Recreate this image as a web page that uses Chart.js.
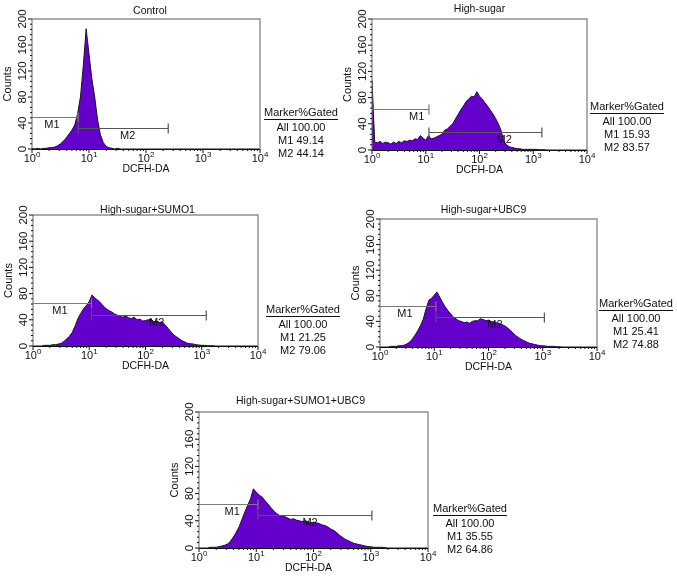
<!DOCTYPE html>
<html>
<head>
<meta charset="utf-8">
<script src="https://cdn.jsdelivr.net/npm/chart.js@4.4.1/dist/chart.umd.min.js"></script>
<style>
  html, body { margin: 0; padding: 0; background: #fff; }
  body { width: 677px; height: 580px; position: relative; overflow: hidden; }
  .panel { position: absolute; }
</style>
</head>
<body>
<div class="panel" style="left:0px;top:0px;width:340px;height:180px"><canvas id="c1"></canvas></div>
<div class="panel" style="left:340px;top:0px;width:337px;height:180px"><canvas id="c2"></canvas></div>
<div class="panel" style="left:0px;top:195px;width:340px;height:180px"><canvas id="c3"></canvas></div>
<div class="panel" style="left:340px;top:195px;width:337px;height:180px"><canvas id="c4"></canvas></div>
<div class="panel" style="left:160px;top:390px;width:360px;height:190px"><canvas id="c5"></canvas></div>
<script>
// channel positions, as log10 of DCFH-DA intensity
var channels = [
  0.00, 0.05, 0.10, 0.15, 0.20, 0.25, 0.30, 0.35, 0.40, 0.45,
  0.50, 0.55, 0.60, 0.65, 0.70, 0.75, 0.80, 0.85, 0.90, 0.95,
  1.00, 1.05, 1.10, 1.15, 1.20, 1.25, 1.30, 1.35, 1.40, 1.45,
  1.50, 1.55, 1.60, 1.65, 1.70, 1.75, 1.80, 1.85, 1.90, 1.95,
  2.00, 2.05, 2.10, 2.15, 2.20, 2.25, 2.30, 2.35, 2.40, 2.45,
  2.50, 2.55, 2.60, 2.65, 2.70, 2.75, 2.80, 2.85, 2.90, 2.95,
  3.00, 3.05, 3.10, 3.15, 3.20, 3.25, 3.30, 3.35, 3.40, 3.45,
  3.50, 3.55, 3.60, 3.65, 3.70, 3.75, 3.80, 3.85, 3.90, 3.95, 4.00
];

var xTickExp = [0, 1, 2, 3, 4];
var yTicks = [0, 40, 80, 120, 160, 200];

var titles = ["Control", "High-sugar", "High-sugar+SUMO1", "High-sugar+UBC9", "High-sugar+SUMO1+UBC9"];

var countsControl = [
  1, 0, 1, 0, 1, 1, 2, 2, 3, 5,
  8, 12, 17, 23, 29, 37, 54, 80, 128, 185,
  146, 108, 80, 45, 22, 10, 4, 2, 1, 0,
  1, 0, 0, 0, 0, 0, 0, 0, 0, 0,
  0, 0, 0, 0, 0, 0, 0, 0, 0, 0,
  0, 0, 0, 0, 0, 0, 0, 0, 0, 0,
  0, 0, 0, 0, 0, 0, 0, 0, 0, 0,
  0, 0, 0, 0, 0, 0, 0, 0, 0, 0, 0
];
var countsHigh = [
  107, 12, 11, 13, 10, 12, 11, 9, 12, 10,
  13, 11, 14, 13, 15, 14, 17, 16, 22, 18,
  15, 22, 17, 18, 20, 22, 24, 30, 32, 36,
  40, 47, 54, 61, 67, 74, 78, 82, 81, 89,
  82, 78, 72, 67, 61, 55, 48, 40, 30, 14,
  8, 5, 4, 3, 2, 2, 1, 1, 1, 1,
  1, 1, 0.5, 0.5, 0.5, 0, 0, 0, 0, 0,
  0, 0, 0, 0, 0, 0, 0, 0, 0, 0, 0
];
var countsSumo = [
  0, 0, 0, 0, 1, 1, 1, 2, 2, 3,
  4, 7, 11, 15, 21, 31, 42, 50, 57, 62,
  68, 78, 73, 70, 66, 61, 57, 54, 52, 49,
  47, 45, 44, 46, 43, 42, 44, 40, 41, 38,
  39, 40, 41, 37, 38, 36, 37, 32, 27, 22,
  17, 14, 11, 8, 6, 4, 3.5, 3, 2, 1.5,
  1, 1, 0.5, 0.5, 0.5, 0, 0, 0, 0, 0,
  0, 0, 0, 0, 0, 0, 0, 0, 0, 0, 0
];
var countsUbc = [
  0, 0, 0, 0, 1, 1, 1, 2, 2, 3,
  5, 8, 13, 19, 26, 34, 44, 60, 73, 76,
  81, 86, 78, 70, 63, 57, 52, 47, 44, 41,
  40, 38, 39, 37, 40, 41, 41, 44, 43, 41,
  42, 40, 39, 38, 37, 35, 33, 30, 26, 22,
  18, 15, 12, 10, 8, 6, 5, 4, 3, 2,
  2, 1.5, 1, 1, 1, 0.5, 0.5, 0, 0, 0,
  0, 0, 0, 0, 0, 0, 0, 0, 0, 0, 0
];
var countsBoth = [
  0, 0, 0, 0, 1, 1, 1, 2, 3, 4,
  6, 10, 16, 23, 31, 42, 53, 63, 72, 87,
  82, 78, 75, 70, 65, 60, 55, 51, 48, 47,
  46, 44, 42, 43, 41, 40, 39, 40, 39, 37,
  38, 37, 36, 34, 33, 31, 28, 26, 23, 19,
  16, 13, 11, 9, 7, 6, 5, 4, 3, 2,
  2, 1, 1, 1, 1, 0.5, 0, 0, 0, 0,
  0, 0, 0, 0, 0, 0, 0, 0, 0, 0, 0
];

// gates: [start, end, level]
var m1Gates = [[0, 0.81, 50], [0, 1.06, 63], [0, 1.04, 65], [0, 1.03, 64], [0, 1.03, 65]];
var m2Gates = [[0.81, 2.39, 33], [1.06, 3.16, 27], [1.04, 3.08, 48], [1.03, 3.03, 47], [1.03, 3.02, 48]];

var pctAll = ["100.00", "100.00", "100.00", "100.00", "100.00"];
var pctM1 = ["49.14", "15.93", "21.25", "25.41", "35.55"];
var pctM2 = ["44.14", "83.57", "79.06", "74.88", "64.86"];

var FONT = '"Liberation Sans", Arial, Helvetica, sans-serif';

// layout of each panel (canvas-relative paddings and text offsets)
var panels = [
  { id: "c1", data: countsControl, pad: { left: 32, top: 19, right: 80, bottom: 31 },
    titleDx: 4, titleDy: 8, labDx: 0, m1Lab: 0.35, m2Lab: 1.68, tab: [41, -36] },
  { id: "c2", data: countsHigh, pad: { left: 32, top: 19, right: 90, bottom: 30 },
    titleDx: 0, titleDy: 10, labDx: 0, m1Lab: 0.83, m2Lab: 2.46, tab: [40, -43] },
  { id: "c3", data: countsSumo, pad: { left: 33, top: 20, right: 82, bottom: 29 },
    titleDx: 2, titleDy: 5, labDx: 0, m1Lab: 0.48, m2Lab: 2.2, tab: [45, -36] },
  { id: "c4", data: countsUbc, pad: { left: 40, top: 24, right: 80, bottom: 28 },
    titleDx: -5, titleDy: 9, labDx: 0, m1Lab: 0.46, m2Lab: 2.12, tab: [39, -43] },
  { id: "c5", data: countsBoth, pad: { left: 39, top: 22, right: 92, bottom: 32 },
    titleDx: -13, titleDy: 11, labDx: -5, m1Lab: 0.58, m2Lab: 1.94, tab: [42, -39] }
];

function drawPow(ctx, x, y, e) {
  ctx.font = '11px ' + FONT;
  var w1 = ctx.measureText('10').width;
  ctx.font = '8px ' + FONT;
  var w2 = ctx.measureText(String(e)).width;
  var x0 = x - (w1 + w2) / 2;
  ctx.textAlign = 'left';
  ctx.textBaseline = 'middle';
  ctx.font = '11px ' + FONT;
  ctx.fillText('10', x0, y);
  ctx.font = '8px ' + FONT;
  ctx.fillText(String(e), x0 + w1, y - 4);
}

function decor(idx) {
  var p = panels[idx];
  return {
    id: 'decor' + idx,
    afterDatasetsDraw: function (chart) {
      var ctx = chart.ctx, a = chart.chartArea;
      var xs = chart.scales.x, ys = chart.scales.y;
      var cx = (a.left + a.right) / 2;
      ctx.save();

      // frame
      ctx.strokeStyle = '#8e8e8e';
      ctx.lineWidth = 1.4;
      ctx.beginPath();
      ctx.moveTo(a.left, a.top); ctx.lineTo(a.right, a.top); ctx.lineTo(a.right, a.bottom);
      ctx.stroke();
      ctx.strokeStyle = '#666';
      ctx.lineWidth = 1;
      ctx.beginPath();
      ctx.moveTo(a.left, a.top); ctx.lineTo(a.left, a.bottom);
      ctx.stroke();
      ctx.strokeStyle = '#111';
      ctx.beginPath();
      ctx.moveTo(a.left, a.bottom + 0.5); ctx.lineTo(a.right, a.bottom + 0.5);
      ctx.stroke();

      // x ticks, major and log minor
      ctx.beginPath();
      xTickExp.forEach(function (e) {
        var px = xs.getPixelForValue(e);
        ctx.moveTo(px, a.bottom); ctx.lineTo(px, a.bottom + 4);
        if (e < 4) {
          for (var k = 2; k <= 9; k++) {
            var mx = xs.getPixelForValue(e + Math.log10(k));
            ctx.moveTo(mx, a.bottom); ctx.lineTo(mx, a.bottom + 2);
          }
        }
      });
      // y ticks
      for (var v = 0; v <= 200; v += 8) {
        var py = ys.getPixelForValue(v);
        var len = (v % 40 === 0) ? 4 : 2;
        ctx.moveTo(a.left, py); ctx.lineTo(a.left - len, py);
      }
      ctx.stroke();

      ctx.fillStyle = '#111';
      // x tick labels
      xTickExp.forEach(function (e) {
        drawPow(ctx, xs.getPixelForValue(e), a.bottom + 10, e);
      });
      // y tick labels, rotated
      ctx.font = '11.5px ' + FONT;
      ctx.textAlign = 'center';
      ctx.textBaseline = 'middle';
      yTicks.forEach(function (t) {
        ctx.save();
        ctx.translate(a.left - 9, ys.getPixelForValue(t));
        ctx.rotate(-Math.PI / 2);
        ctx.fillText(String(t), 0, 0);
        ctx.restore();
      });
      // axis titles
      ctx.font = '11px ' + FONT;
      ctx.save();
      ctx.translate(a.left - 24, (a.top + a.bottom) / 2);
      ctx.rotate(-Math.PI / 2);
      ctx.fillText('Counts', 0, 0);
      ctx.restore();
      ctx.font = '10.5px ' + FONT;
      ctx.fillText('DCFH-DA', cx + p.labDx, a.bottom + 20);
      // panel title
      ctx.fillText(titles[idx], cx + p.titleDx, a.top - p.titleDy);

      // gates
      var gates = [m1Gates[idx], m2Gates[idx]];
      var labs = [p.m1Lab, p.m2Lab];
      gates.forEach(function (g, gi) {
        var x0 = xs.getPixelForValue(g[0]), x1 = xs.getPixelForValue(g[1]);
        var gy = Math.round(ys.getPixelForValue(g[2])) + 0.5;
        ctx.strokeStyle = gi === 0 ? '#7a7a7a' : '#555';
        ctx.lineWidth = 1.2;
        ctx.beginPath();
        ctx.moveTo(x0, gy); ctx.lineTo(x1, gy);
        if (g[0] > 0) { ctx.moveTo(x0, gy - 5); ctx.lineTo(x0, gy + 5); }
        ctx.moveTo(x1, gy - 5); ctx.lineTo(x1, gy + 5);
        ctx.stroke();
        ctx.fillStyle = '#111';
        ctx.font = '11px ' + FONT;
        ctx.textAlign = 'center';
        ctx.fillText('M' + (gi + 1), xs.getPixelForValue(labs[gi]), gy + 7);
      });

      // marker table
      var tx = a.right + p.tab[0], ty = a.bottom + p.tab[1];
      ctx.font = '11px ' + FONT;
      ctx.textAlign = 'center';
      ctx.fillText('Marker%Gated', tx, ty);
      var w = ctx.measureText('Marker%Gated').width;
      ctx.strokeStyle = '#111';
      ctx.lineWidth = 1;
      ctx.beginPath();
      ctx.moveTo(tx - w / 2, ty + 6.5); ctx.lineTo(tx + w / 2, ty + 6.5);
      ctx.stroke();
      ctx.fillText('All ' + pctAll[idx], tx, ty + 15);
      ctx.fillText('M1 ' + pctM1[idx], tx, ty + 28);
      ctx.fillText('M2 ' + pctM2[idx], tx, ty + 41);
      ctx.restore();
    }
  };
}

panels.forEach(function (p, idx) {
  new Chart(document.getElementById(p.id), {
    type: 'line',
    data: {
      datasets: [{
        data: channels.map(function (c, i) { return { x: c, y: p.data[i] }; }),
        fill: 'origin',
        backgroundColor: '#6400cc',
        borderColor: '#161616',
        borderWidth: 1,
        pointRadius: 0,
        tension: 0
      }]
    },
    options: {
      responsive: true,
      maintainAspectRatio: false,
      animation: false,
      events: [],
      layout: { padding: p.pad },
      plugins: {
        legend: { display: false },
        tooltip: { enabled: false },
        title: { display: false }
      },
      scales: {
        x: { type: 'linear', min: 0, max: 4, display: false },
        y: { type: 'linear', min: 0, max: 200, display: false }
      }
    },
    plugins: [decor(idx)]
  });
});
</script>
</body>
</html>
